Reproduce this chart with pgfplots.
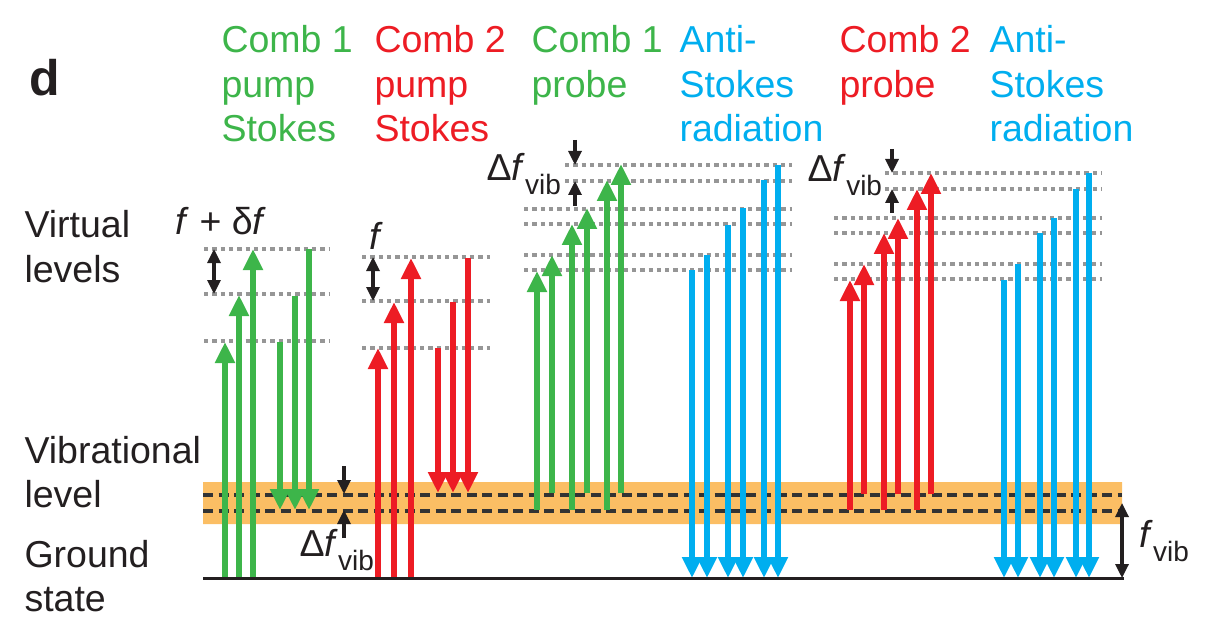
\documentclass[border=0pt]{standalone}
\usepackage{pgfplots}
\pgfplotsset{compat=1.18}
\usetikzlibrary{arrows.meta}
\usepackage{fontspec}
\setmainfont{Liberation Sans}
\definecolor{cgreen}{RGB}{61,181,74}
\definecolor{cred}{RGB}{237,28,36}
\definecolor{cblue}{RGB}{0,174,239}
\definecolor{corange}{RGB}{251,190,100}
\definecolor{cdot}{RGB}{150,150,150}
\definecolor{cdash}{RGB}{51,51,51}
\definecolor{cblack}{RGB}{35,31,32}
\newcommand{\hdr}{\fontsize{37.5}{44}\selectfont}
\newcommand{\sub}{\fontsize{28}{30}\selectfont}
\newcommand{\arr}[4]{\addplot[draw=#1, line width=6.5pt, -{Triangle[width=19pt,length=21pt]}] coordinates {(#2,#3) (#2,#4)};}
\newcommand{\barr}[3]{\addplot[draw=cblack, line width=3.2pt, -{Triangle[width=13pt,length=14pt]}] coordinates {(#1,#2) (#1,#3)};}
\newcommand{\darr}[3]{\addplot[draw=cblack, line width=3.2pt, {Triangle[width=13pt,length=14pt]}-{Triangle[width=13pt,length=14pt]}] coordinates {(#1,#2) (#1,#3)};}
\newcommand{\lvl}[3]{\addplot[draw=cdot, line width=3.3pt, dash pattern=on 4.3pt off 4pt] coordinates {(#1,#3) (#2,#3)};}
\begin{document}
\begin{tikzpicture}
\begin{axis}[width=1209pt,height=620pt,scale only axis,
  xmin=0,xmax=1209,ymin=0,ymax=620,y dir=reverse,hide axis,clip=false,
  every node/.append style={inner sep=0pt}]
% bounding frame (invisible)
\addplot[draw=none] coordinates {(0,0) (1209,620)};
% vibrational band
\addplot[fill=corange, draw=none] coordinates {(203,482) (1122,482) (1122,524) (203,524) (203,482)};
\addplot[draw=cdash, line width=4pt, dash pattern=on 10pt off 5.5pt] coordinates {(203,494.5) (1122,494.5)};
\addplot[draw=cdash, line width=4pt, dash pattern=on 10pt off 5.5pt] coordinates {(203,510.5) (1122,510.5)};
% virtual levels
\lvl{204}{330}{249} \lvl{204}{330}{294} \lvl{204}{330}{341}
\lvl{362}{490}{257} \lvl{362}{490}{301} \lvl{362}{490}{348}
\lvl{565}{792}{165} \lvl{565}{792}{181} \lvl{524}{792}{209} \lvl{524}{792}{224} \lvl{524}{792}{255} \lvl{524}{792}{270}
\lvl{885}{1102}{173} \lvl{885}{1102}{189} \lvl{834}{1102}{218} \lvl{834}{1102}{233} \lvl{834}{1102}{264} \lvl{834}{1102}{279}
% comb 1 pump Stokes
\arr{cgreen}{225}{579}{342} \arr{cgreen}{239}{579}{295} \arr{cgreen}{253}{579}{249}
\arr{cgreen}{280}{342}{510} \arr{cgreen}{295}{296}{510} \arr{cgreen}{309}{249}{510}
% comb 2 pump Stokes
\arr{cred}{378}{579}{348} \arr{cred}{394}{579}{302} \arr{cred}{411}{579}{258}
\arr{cred}{438}{348}{493} \arr{cred}{453}{302}{493} \arr{cred}{468}{258}{493}
% comb 1 probe
\arr{cgreen}{537}{510}{271} \arr{cgreen}{552}{493}{255} \arr{cgreen}{572}{510}{224}
\arr{cgreen}{587}{493}{208} \arr{cgreen}{607}{510}{180} \arr{cgreen}{621}{493}{164}
% anti-Stokes 1
\arr{cblue}{692}{270}{578} \arr{cblue}{707}{255}{578} \arr{cblue}{728}{225}{578}
\arr{cblue}{743}{208}{578} \arr{cblue}{764}{180}{578} \arr{cblue}{778}{165}{578}
% comb 2 probe
\arr{cred}{850}{510}{280} \arr{cred}{864}{494}{264} \arr{cred}{884}{510}{233}
\arr{cred}{898}{494}{218} \arr{cred}{917}{510}{189} \arr{cred}{931}{494}{173}
% anti-Stokes 2
\arr{cblue}{1004}{280}{578} \arr{cblue}{1018}{264}{578} \arr{cblue}{1040}{233}{578}
\arr{cblue}{1054}{218}{578} \arr{cblue}{1076}{189}{578} \arr{cblue}{1089}{173}{578}
% ground state
\addplot[draw=cblack, line width=3.5pt] coordinates {(203,578.5) (1124,578.5)};
% black markers
\darr{214}{249}{294}
\darr{373}{257}{301}
\barr{344}{466}{494} \barr{344}{538}{510}
\barr{575}{140}{165} \barr{575}{206}{181}
\barr{892}{149}{173} \barr{892}{213}{189}
\darr{1122}{503}{578}
% texts
\node[anchor=base west, font=\fontsize{50}{50}\selectfont\bfseries, text=cblack] at (axis cs:26,96) {d};
\node[anchor=base west, font=\hdr, text=cgreen] at (axis cs:218,53) {Comb 1};
\node[anchor=base west, font=\hdr, text=cgreen] at (axis cs:218,97.5) {pump};
\node[anchor=base west, font=\hdr, text=cgreen] at (axis cs:218,142) {Stokes};
\node[anchor=base west, font=\hdr, text=cred] at (axis cs:371,53) {Comb 2};
\node[anchor=base west, font=\hdr, text=cred] at (axis cs:371,97.5) {pump};
\node[anchor=base west, font=\hdr, text=cred] at (axis cs:371,142) {Stokes};
\node[anchor=base west, font=\hdr, text=cgreen] at (axis cs:528,53) {Comb 1};
\node[anchor=base west, font=\hdr, text=cgreen] at (axis cs:528,97.5) {probe};
\node[anchor=base west, font=\hdr, text=cblue] at (axis cs:676,53) {Anti-};
\node[anchor=base west, font=\hdr, text=cblue] at (axis cs:676,97.5) {Stokes};
\node[anchor=base west, font=\hdr, text=cblue] at (axis cs:676,142) {radiation};
\node[anchor=base west, font=\hdr, text=cred] at (axis cs:836,53) {Comb 2};
\node[anchor=base west, font=\hdr, text=cred] at (axis cs:836,97.5) {probe};
\node[anchor=base west, font=\hdr, text=cblue] at (axis cs:986,53) {Anti-};
\node[anchor=base west, font=\hdr, text=cblue] at (axis cs:986,97.5) {Stokes};
\node[anchor=base west, font=\hdr, text=cblue] at (axis cs:986,142) {radiation};
\node[anchor=base west, font=\hdr, text=cblack] at (axis cs:21,238) {Virtual};
\node[anchor=base west, font=\hdr, text=cblack] at (axis cs:21,282) {levels};
\node[anchor=base west, font=\hdr, text=cblack] at (axis cs:21,463) {Vibrational};
\node[anchor=base west, font=\hdr, text=cblack] at (axis cs:21,507) {level};
\node[anchor=base west, font=\hdr, text=cblack] at (axis cs:21,567) {Ground};
\node[anchor=base west, font=\hdr, text=cblack] at (axis cs:21,611) {state};
\node[anchor=base east, font=\hdr, text=cblack] at (axis cs:270,235) {\textit{f} + δ\textit{f}};
\node[anchor=base west, font=\hdr, text=cblack] at (axis cs:366,250) {\textit{f}};
\node[anchor=base west, font=\hdr, text=cblack] at (axis cs:296,556) {Δ\textit{f}\raisebox{-14pt}{\sub vib}};
\node[anchor=base west, font=\hdr, text=cblack] at (axis cs:483,181) {Δ\textit{f}\raisebox{-14pt}{\sub vib}};
\node[anchor=base west, font=\hdr, text=cblack] at (axis cs:804,182) {Δ\textit{f}\raisebox{-14pt}{\sub vib}};
\node[anchor=base west, font=\hdr, text=cblack] at (axis cs:1136,547) {\textit{f}\raisebox{-14pt}{\sub vib}};
\end{axis}
\end{tikzpicture}
\end{document}
